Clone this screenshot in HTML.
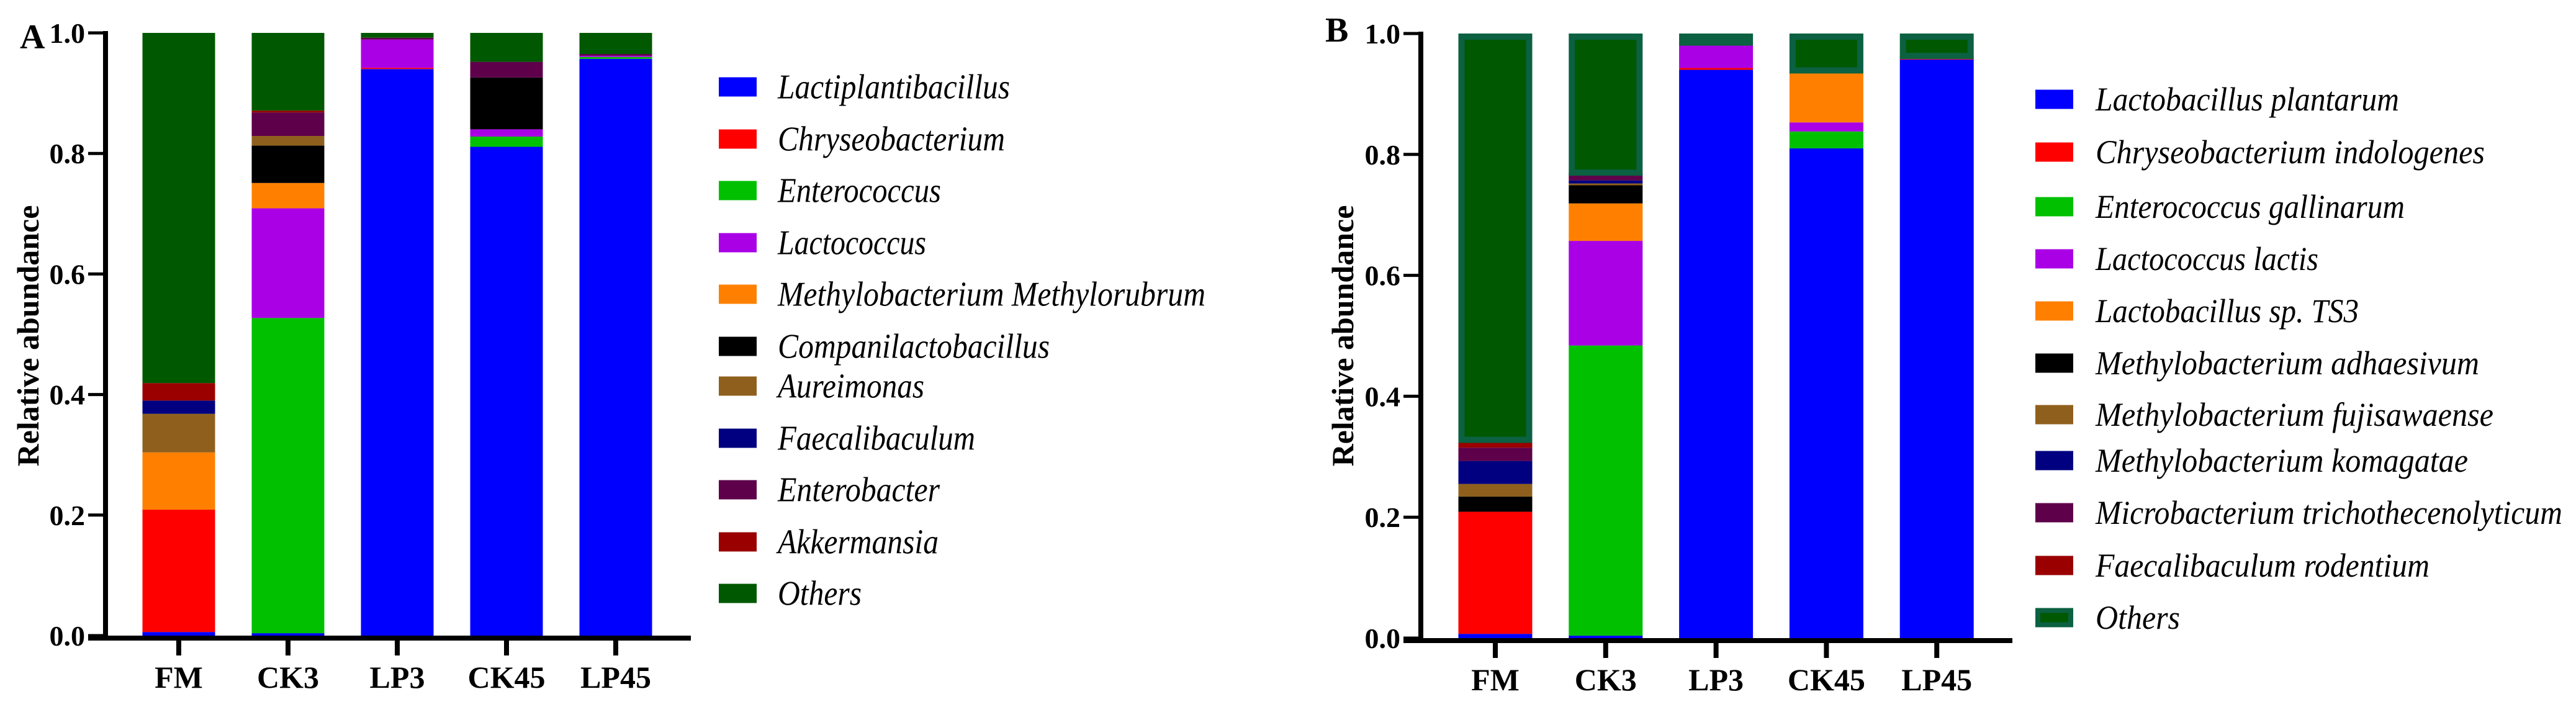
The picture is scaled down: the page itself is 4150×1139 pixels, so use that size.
<!DOCTYPE html>
<html><head><meta charset="utf-8"><style>
html,body{margin:0;padding:0;background:#fff;}
svg{display:block;}
text{font-family:"Liberation Serif",serif;}
</style></head><body>
<svg id="fig" width="4150" height="1139" viewBox="0 0 4150 1139" xmlns="http://www.w3.org/2000/svg"></svg>
<script>
const categories = ["FM","CK3","LP3","CK45","LP45"];
const yTicks = [0,0.2,0.4,0.6,0.8,1.0];
const yTickLabels = ["0.0","0.2","0.4","0.6","0.8","1.0"];
const colors = ["#0000ff","#ff0000","#00c000","#aa00e6","#ff8000","#000000","#8f601d","#000080","#5e004a","#9a0000","#005800"];
// Panel A (genus)
const namesA = ["Lactiplantibacillus","Chryseobacterium","Enterococcus","Lactococcus","Methylobacterium Methylorubrum","Companilactobacillus","Aureimonas","Faecalibaculum","Enterobacter","Akkermansia","Others"];
const lactiA = [0.006,0.004,0.940,0.811,0.957];
const chryA  = [0.203,0.000,0.002,0.000,0.000];
const enteA  = [0.000,0.523,0.000,0.017,0.003];
const lactoA = [0.000,0.182,0.047,0.012,0.002];
const methA  = [0.095,0.042,0.000,0.000,0.000];
const compA  = [0.000,0.062,0.000,0.086,0.000];
const aureA  = [0.064,0.016,0.000,0.000,0.000];
const faecA  = [0.022,0.000,0.000,0.000,0.000];
const entbA  = [0.000,0.039,0.003,0.026,0.003];
const akkA   = [0.029,0.003,0.000,0.000,0.000];
const othA   = [0.581,0.129,0.008,0.048,0.035];
// Panel B (species)
const namesB = ["Lactobacillus plantarum","Chryseobacterium indologenes","Enterococcus gallinarum","Lactococcus lactis","Lactobacillus sp. TS3","Methylobacterium adhaesivum","Methylobacterium fujisawaense","Methylobacterium komagatae","Microbacterium trichothecenolyticum","Faecalibaculum rodentium","Others"];
const lpB    = [0.007,0.004,0.940,0.810,0.957];
const chrB   = [0.202,0.000,0.003,0.000,0.002];
const egB    = [0.000,0.480,0.000,0.028,0.002];
const llB    = [0.000,0.173,0.040,0.015,0.000];
const ts3B   = [0.000,0.062,0.002,0.086,0.002];
const adhB   = [0.025,0.030,0.000,0.000,0.000];
const fujB   = [0.021,0.003,0.000,0.000,0.000];
const komB   = [0.038,0.005,0.000,0.000,0.000];
const micB   = [0.022,0.013,0.000,0.000,0.000];
const rodB   = [0.013,0.000,0.000,0.000,0.000];
const othB   = [0.672,0.230,0.015,0.061,0.037];

const NS="http://www.w3.org/2000/svg";
const svg=document.getElementById('fig');
const FF='"Liberation Serif", "DejaVu Serif", serif';
function mk(tag,attrs,parent){const e=document.createElementNS(NS,tag);for(const k in attrs)e.setAttribute(k,attrs[k]);if(tag==='text')e.setAttribute('font-family',FF);(parent||svg).appendChild(e);return e;}

const legendWidthsA=[374,366,263,239,689,438,236,318,261,259,135];
const legendWidthsB=[489,627,498,359,424,618,641,600,752,538,136];

function panel(cfg){
  const g=mk('g',{});
  
  
  const yScale=v=>cfg.y0-(cfg.y0-cfg.y1)*v;
  const xCenter=i=>cfg.x0+i*cfg.step;
  categories.forEach((c,i)=>{
    let acc=0;
    cfg.series.forEach((s,k)=>{
      const v=s[i]; if(v<=0){return;}
      const top=yScale(acc+v), bot=yScale(acc);
      const isOther=cfg.otherBorder && k===cfg.series.length-1;
      const r=mk('rect',{x:xCenter(i)-cfg.bw/2,y:top,width:cfg.bw,height:bot-top,fill:colors[k]},g);
      if(isOther){r.setAttribute('stroke','#0b6141');r.setAttribute('stroke-width','10');r.setAttribute('x',xCenter(i)-cfg.bw/2+5);r.setAttribute('width',cfg.bw-10);r.setAttribute('y',top+5);r.setAttribute('height',Math.max(0,bot-top-5));}
      
      
      acc+=v;
    });
  });
  const ya=mk('line',{x1:cfg.ax,y1:cfg.y1-3,x2:cfg.ax,y2:cfg.y0+8,stroke:'#000','stroke-width':8},g);
  
  
  yTicks.forEach((t,i)=>{
    const y=yScale(t);
    const tk=mk('line',{x1:cfg.ax-28,y1:y,x2:cfg.ax,y2:y,stroke:'#000','stroke-width':5},g);
    
    
    const tl=mk('text',{x:cfg.ax-33,y:y+16,'text-anchor':'end','font-size':46,'font-weight':'bold'},g);
    tl.textContent=yTickLabels[i];
    
    
  });
  const xa=mk('line',{x1:cfg.ax-28,y1:cfg.y0+4,x2:cfg.axEnd,y2:cfg.y0+4,stroke:'#000','stroke-width':8},g);
  
  
  categories.forEach((c,i)=>{
    const tk=mk('line',{x1:xCenter(i),y1:cfg.y0+4,x2:xCenter(i),y2:cfg.y0+32,stroke:'#000','stroke-width':8},g);
    
    
    const tl=mk('text',{x:xCenter(i),y:cfg.y0+84,'text-anchor':'middle','font-size':50,'font-weight':'bold'},g);
    tl.textContent=c;
    
    
  });
  const yt=mk('text',{x:0,y:0,'text-anchor':'middle','font-size':50,'font-weight':'bold',transform:`translate(${cfg.titleX},${cfg.titleY}) rotate(-90)`},g);
  yt.textContent='Relative abundance';
  
  
  const pl=mk('text',{x:cfg.letterX,y:cfg.letterY,'font-size':56,'font-weight':'bold'},g);
  pl.textContent=cfg.letter;
  
  
  cfg.names.forEach((n,k)=>{
    const cy=cfg.legRows[k];
    const sw=mk('rect',{x:cfg.legX,y:cy-cfg.swH/2,width:cfg.swW,height:cfg.swH,fill:colors[k]},g);
    if(cfg.otherBorder && k===cfg.names.length-1){sw.setAttribute('stroke','#0b6141');sw.setAttribute('stroke-width','8');sw.setAttribute('x',cfg.legX+4);sw.setAttribute('y',cy-cfg.swH/2+4);sw.setAttribute('width',cfg.swW-8);sw.setAttribute('height',cfg.swH-8);}
    
    
    const t=mk('text',{x:cfg.legTextX,y:cy+cfg.fs*0.33,'font-size':cfg.fs,'font-style':'italic',textLength:cfg.legW[k],lengthAdjust:'spacingAndGlyphs'},g);
    t.textContent=n;
    
    
  });
}

panel({id:'panel-a',letter:'A',letterX:32,letterY:78,names:namesA,
  series:[lactiA,chryA,enteA,lactoA,methA,compA,aureA,faecA,entbA,akkA,othA],
  y0:1024,y1:53,ax:170,axEnd:1113,x0:288,step:176,bw:117,titleX:62,titleY:541,
  legX:1158,swW:61,swH:31,legTextX:1253,fs:56,legW:legendWidthsA,
  legRows:[140,224,307,391,474,558,622,706,789,873,956],otherBorder:false});
panel({id:'panel-b',letter:'B',letterX:2135,letterY:67,names:namesB,
  series:[lpB,chrB,egB,llB,ts3B,adhB,fujB,komB,micB,rodB,othB],
  y0:1028,y1:54,ax:2289,axEnd:3242,x0:2409,step:177.8,bw:119,titleX:2180,titleY:541,
  legX:3279,swW:61,swH:31,legTextX:3376,fs:54,legW:legendWidthsB,
  legRows:[160,245,333,417,501,585,668,742,826,911,995],otherBorder:true});
</script>
</body></html>
